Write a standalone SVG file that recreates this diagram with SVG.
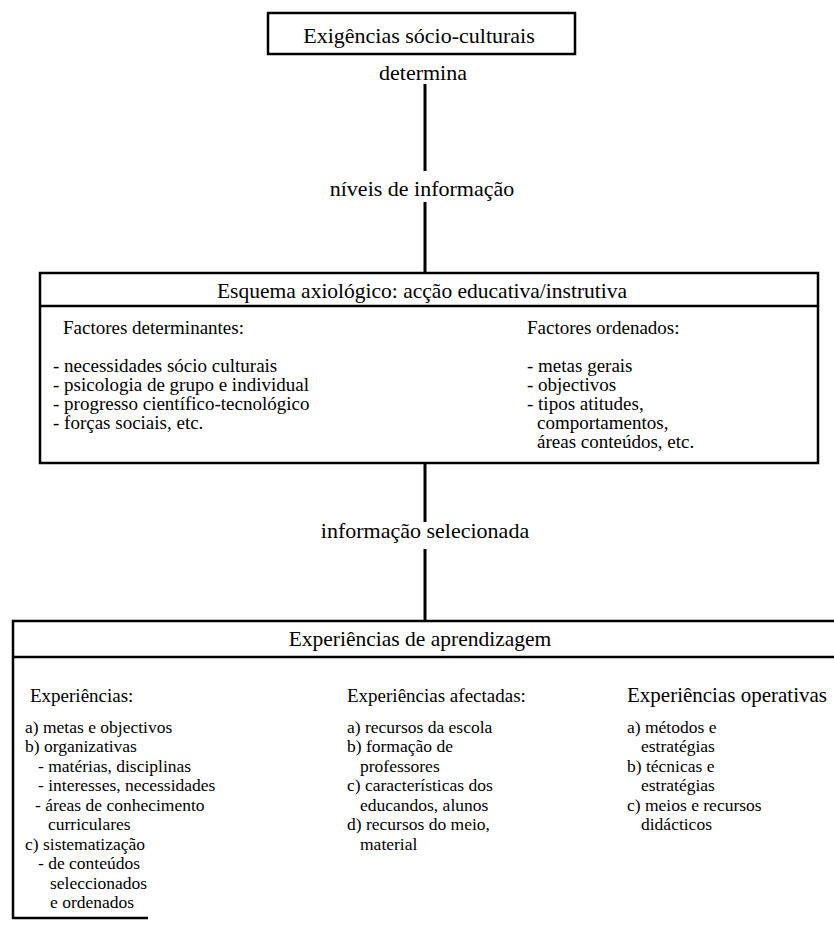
<svg xmlns="http://www.w3.org/2000/svg" width="834" height="927" viewBox="0 0 834 927">
<style>
text{font-family:"Liberation Serif","Times New Roman",serif;fill:#000}
.t22{font-size:22px}
.h{font-size:21.5px}
.m{font-size:19px}
.b{font-size:17.5px}
.bh{font-size:19px}
.bo{font-size:21px}
.c{text-anchor:middle}
.box{fill:none;stroke:#000;stroke-width:2.5}
.ln{stroke:#000;stroke-width:3;fill:none}
</style>
<rect width="834" height="927" fill="#fff"/>
<g id="connectors">
<line class="ln" x1="425" y1="84" x2="425" y2="171"/>
<line class="ln" x1="425" y1="202" x2="425" y2="273"/>
<line class="ln" x1="425" y1="463" x2="425" y2="522"/>
<line class="ln" x1="425" y1="549" x2="425" y2="621"/>
<text class="t22 c" x="423" y="80">determina</text>
<text class="t22 c" x="422" y="196">níveis de informação</text>
<text class="t22 c" x="425" y="538">informação selecionada</text>
</g>
<g id="exigencias">
<rect class="box" x="268" y="13" width="307" height="41"/>
<text class="t22 c" x="419" y="43">Exigências sócio-culturais</text>
</g>
<g id="esquema">
<rect class="box" x="40" y="273" width="778" height="190"/>
<line class="box" x1="40" y1="306" x2="818" y2="306"/>
<text class="h c" x="422" y="298">Esquema axiológico: acção educativa/instrutiva</text>
<text class="m" x="63" y="334">Factores determinantes:</text>
<text class="m" x="53" y="372">- necessidades sócio culturais</text>
<text class="m" x="53" y="391">- psicologia de grupo e individual</text>
<text class="m" x="53" y="410">- progresso científico-tecnológico</text>
<text class="m" x="53" y="429">- forças sociais, etc.</text>
<text class="m" x="527" y="334">Factores ordenados:</text>
<text class="m" x="527" y="372">- metas gerais</text>
<text class="m" x="527" y="391">- objectivos</text>
<text class="m" x="527" y="410">- tipos atitudes,</text>
<text class="m" x="537" y="429">comportamentos,</text>
<text class="m" x="537" y="448">áreas conteúdos, etc.</text>
</g>
<g id="experiencias">
<path class="box" d="M840 621 H13 V918 H148"/>
<line class="box" x1="13" y1="657" x2="840" y2="657"/>
<text class="h c" x="420" y="646">Experiências de aprendizagem</text>
<text class="bh" x="30" y="702">Experiências:</text>
<text class="b" x="25" y="732.5">a) metas e objectivos</text>
<text class="b" x="25" y="752">b) organizativas</text>
<text class="b" x="38" y="771.5">- matérias, disciplinas</text>
<text class="b" x="38" y="791">- interesses, necessidades</text>
<text class="b" x="35" y="810.5">- áreas de conhecimento</text>
<text class="b" x="48" y="830">curriculares</text>
<text class="b" x="25" y="849.5">c) sistematização</text>
<text class="b" x="38" y="869">- de conteúdos</text>
<text class="b" x="50" y="888.5">seleccionados</text>
<text class="b" x="50" y="908">e ordenados</text>
<text class="bh" x="347" y="702">Experiências afectadas:</text>
<text class="b" x="347" y="732.5">a) recursos da escola</text>
<text class="b" x="347" y="752">b) formação de</text>
<text class="b" x="360" y="771.5">professores</text>
<text class="b" x="347" y="791">c) características dos</text>
<text class="b" x="360" y="810.5">educandos, alunos</text>
<text class="b" x="347" y="830">d) recursos do meio,</text>
<text class="b" x="360" y="849.5">material</text>
<text class="bo" x="627" y="702">Experiências operativas</text>
<text class="b" x="627" y="732.5">a) métodos e</text>
<text class="b" x="641" y="752">estratégias</text>
<text class="b" x="627" y="771.5">b) técnicas e</text>
<text class="b" x="641" y="791">estratégias</text>
<text class="b" x="627" y="810.5">c) meios e recursos</text>
<text class="b" x="641" y="830">didácticos</text>
</g>
</svg>
